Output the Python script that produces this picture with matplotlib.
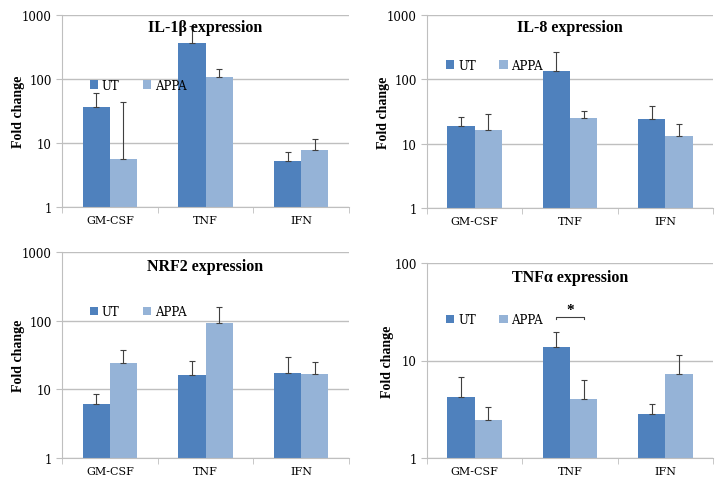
import numpy as np
import matplotlib
matplotlib.use('Agg')
import matplotlib.pyplot as plt

plt.rcParams['font.family'] = ['DejaVu Serif']

# ===================== 数据 =====================
categories = ['GM-CSF', 'TNF', 'IFN']

il1b_ut = [37, 365, 5.2]
il1b_ut_err = [23, 315, 2.1]
il1b_appa = [5.7, 109, 7.8]
il1b_appa_err = [38, 32, 3.6]

il8_ut = [19, 137, 23.8]
il8_ut_err = [7.4, 133, 15]
il8_appa = [16.3, 25, 13.3]
il8_appa_err = [12.5, 7.4, 6.6]

nrf2_ut = [6.2, 16, 17.3]
nrf2_ut_err = [2.3, 9.7, 12.7]
nrf2_appa = [24, 91, 16.6]
nrf2_appa_err = [13.5, 66, 8.2]

tnfa_ut = [4.2, 13.7, 2.8]
tnfa_ut_err = [2.55, 6.0, 0.76]
tnfa_appa = [2.45, 4.0, 7.25]
tnfa_appa_err = [0.87, 2.3, 4.15]

C_UT = '#4F81BD'
C_APPA = '#95B3D7'
GRID = '#BFBFBF'
BOLD_FONT = ['Liberation Serif', 'DejaVu Serif']
W, H = 716, 481


def px_axes(fig, left, right, top, bottom):
    """像素框 → figure 坐标。"""
    return fig.add_axes([left / W, 1 - bottom / H, (right - left) / W, (bottom - top) / H])


def draw_panel(ax, title, ut, ut_err, appa, appa_err, ymax, title_y, leg_xy):
    x = np.arange(len(categories))
    bw = 0.285
    ax.set_yscale('log')
    ax.set_ylim(1, ymax)
    ax.set_xlim(-0.5, len(categories) - 0.5)
    ax.bar(x - bw / 2, ut, bw, color=C_UT, label='UT', zorder=2)
    ax.bar(x + bw / 2, appa, bw, color=C_APPA, label='APPA', zorder=2)
    for xs, v, e in [(x - bw / 2, ut, ut_err), (x + bw / 2, appa, appa_err)]:
        ax.errorbar(xs, v, yerr=[np.zeros(len(v)), e], fmt='none', ecolor='#404040',
                    elinewidth=0.8, capsize=2.5, capthick=0.8, zorder=3)
    ax.yaxis.grid(True, color=GRID, lw=1, zorder=0)
    ax.yaxis.set_minor_locator(matplotlib.ticker.NullLocator())
    ax.yaxis.set_major_formatter(matplotlib.ticker.FuncFormatter(lambda v, p: f'{v:g}'))
    ax.set_xticks(x)
    ax.set_xticklabels(categories, fontsize=8)
    ax.set_xticks(np.arange(len(categories) + 1) - 0.5, minor=True)
    ax.tick_params(axis='x', which='major', length=0, pad=6)
    ax.tick_params(axis='x', which='minor', length=4, color=GRID)
    ax.tick_params(axis='y', length=4, color=GRID, labelsize=8.5)
    for s in ['top', 'right']:
        ax.spines[s].set_visible(False)
    for s in ['left', 'bottom']:
        ax.spines[s].set_color(GRID)
    ax.set_ylabel('Fold change', fontsize=10, fontweight='bold', family=BOLD_FONT)
    ax.text(0.5, title_y, title, transform=ax.transAxes, ha='center', va='center',
            fontsize=11.5, fontweight='bold', family=BOLD_FONT)
    ax.legend(loc='center left', bbox_to_anchor=leg_xy, ncol=2, frameon=False,
              prop={'family': 'DejaVu Serif', 'size': 8.5},
              handlelength=0.7, handleheight=0.7, handletextpad=0.3, columnspacing=2.0)


fig = plt.figure(figsize=(W / 100, H / 100), dpi=100)

ax1 = px_axes(fig, 62, 349, 16, 208)
draw_panel(ax1, 'IL-1β expression', il1b_ut, il1b_ut_err, il1b_appa, il1b_appa_err,
           1000, 0.94, (0.06, 0.635))
ax1.yaxis.set_label_coords(-0.13, 0.5)

ax2 = px_axes(fig, 427, 713, 16, 209)
draw_panel(ax2, 'IL-8 expression', il8_ut, il8_ut_err, il8_appa, il8_appa_err,
           1000, 0.94, (0.03, 0.74))
ax2.yaxis.set_label_coords(-0.13, 0.5)

ax3 = px_axes(fig, 62, 349, 253, 459)
draw_panel(ax3, 'NRF2 expression', nrf2_ut, nrf2_ut_err, nrf2_appa, nrf2_appa_err,
           1000, 0.93, (0.06, 0.71))
ax3.yaxis.set_label_coords(-0.13, 0.5)

ax4 = px_axes(fig, 427, 713, 264, 459)
draw_panel(ax4, 'TNFα expression', tnfa_ut, tnfa_ut_err, tnfa_appa, tnfa_appa_err,
           100, 0.93, (0.03, 0.71))
ax4.yaxis.set_label_coords(-0.115, 0.5)

# 显著性标记（TNF 组）
bx = [1 - 0.285 / 2, 1 + 0.285 / 2]
ax4.plot([bx[0], bx[0], bx[1], bx[1]], [26.5, 27.9, 27.9, 26.5], color='#404040', lw=0.8)
ax4.text(np.mean(bx), 28.5, '*', ha='center', va='bottom', fontsize=11, fontweight='bold',
         family=BOLD_FONT)

plt.savefig('out.png', dpi=100)
